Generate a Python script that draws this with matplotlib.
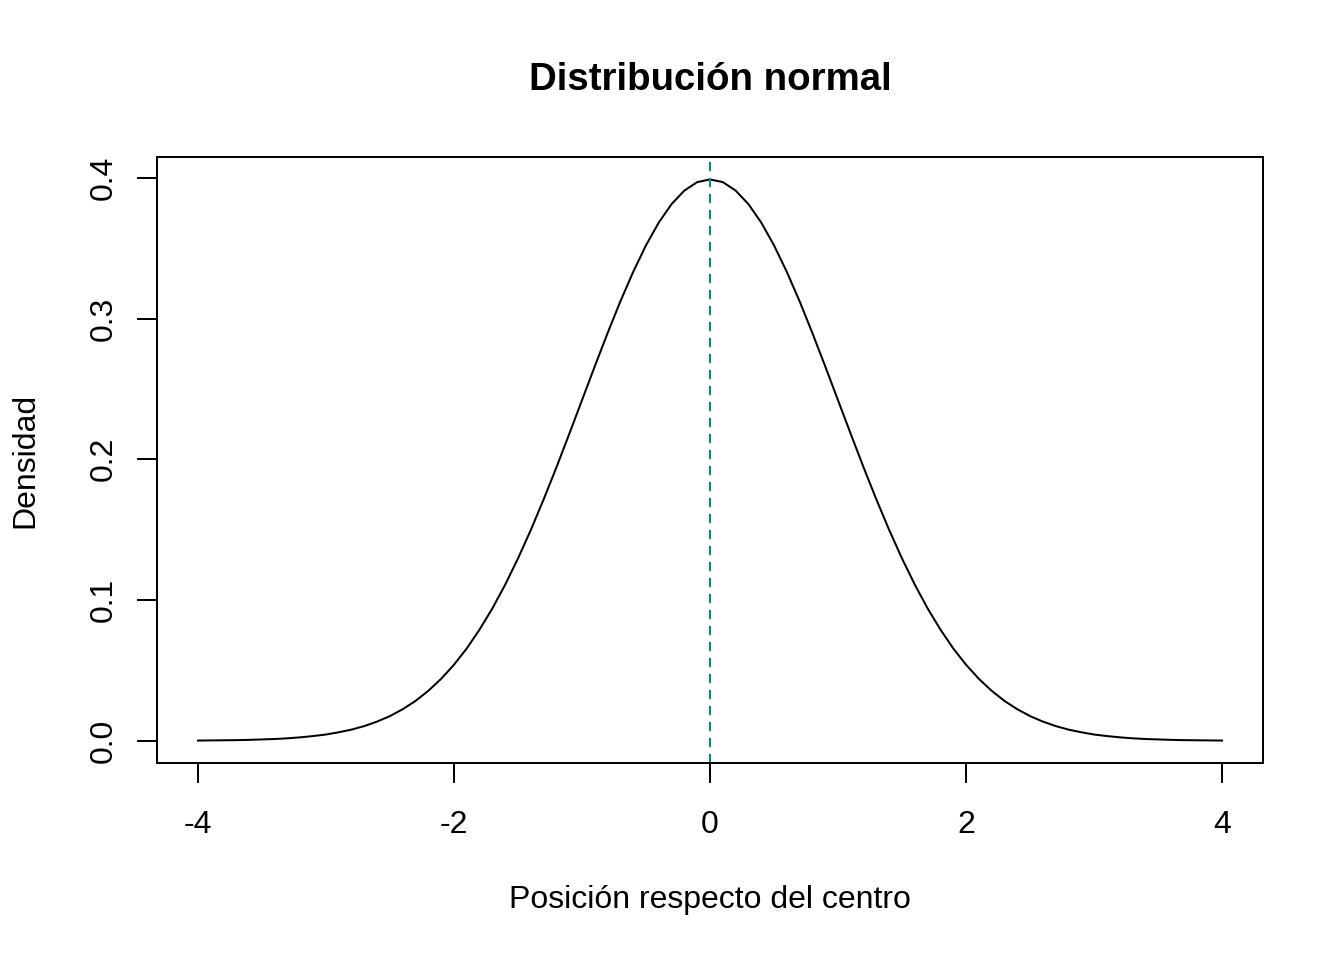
import numpy as np
import matplotlib
matplotlib.use("Agg")
import matplotlib.pyplot as plt

# valores
posicion = [-4.0, -3.9, -3.8, -3.7, -3.6, -3.5, -3.4, -3.3, -3.2, -3.1,
            -3.0, -2.9, -2.8, -2.7, -2.6, -2.5, -2.4, -2.3, -2.2, -2.1,
            -2.0, -1.9, -1.8, -1.7, -1.6, -1.5, -1.4, -1.3, -1.2, -1.1,
            -1.0, -0.9, -0.8, -0.7, -0.6, -0.5, -0.4, -0.3, -0.2, -0.1,
            0.0, 0.1, 0.2, 0.3, 0.4, 0.5, 0.6, 0.7, 0.8, 0.9,
            1.0, 1.1, 1.2, 1.3, 1.4, 1.5, 1.6, 1.7, 1.8, 1.9,
            2.0, 2.1, 2.2, 2.3, 2.4, 2.5, 2.6, 2.7, 2.8, 2.9,
            3.0, 3.1, 3.2, 3.3, 3.4, 3.5, 3.6, 3.7, 3.8, 3.9, 4.0]
densidad = [0.0001, 0.0002, 0.0003, 0.0004, 0.0006, 0.0009, 0.0012, 0.0017, 0.0024, 0.0033,
            0.0044, 0.0060, 0.0079, 0.0104, 0.0136, 0.0175, 0.0224, 0.0283, 0.0355, 0.0440,
            0.0540, 0.0656, 0.0790, 0.0940, 0.1109, 0.1295, 0.1497, 0.1714, 0.1942, 0.2179,
            0.2420, 0.2661, 0.2897, 0.3123, 0.3332, 0.3521, 0.3683, 0.3814, 0.3910, 0.3970,
            0.3989, 0.3970, 0.3910, 0.3814, 0.3683, 0.3521, 0.3332, 0.3123, 0.2897, 0.2661,
            0.2420, 0.2179, 0.1942, 0.1714, 0.1497, 0.1295, 0.1109, 0.0940, 0.0790, 0.0656,
            0.0540, 0.0440, 0.0355, 0.0283, 0.0224, 0.0175, 0.0136, 0.0104, 0.0079, 0.0060,
            0.0044, 0.0033, 0.0024, 0.0017, 0.0012, 0.0009, 0.0006, 0.0004, 0.0003, 0.0002, 0.0001]
centro = 0.0
xticks = [-4, -2, 0, 2, 4]
yticks = [0.0, 0.1, 0.2, 0.3, 0.4]

plt.rcParams['font.family'] = ['Liberation Sans', 'DejaVu Sans']
plt.rcParams['lines.scale_dashes'] = False

fig = plt.figure(figsize=(7, 5), dpi=192)
ax = fig.add_axes([157 / 1344, 197 / 960, 1106 / 1344, 606 / 960])

ax.plot(posicion, densidad, color='black', lw=0.75)
ax.axvline(centro, color='#008B8B', lw=0.75, dashes=(3.4, 2.6))

xr = max(posicion) - min(posicion)
ax.set_xlim(min(posicion) - 0.04 * xr, max(posicion) + 0.04 * xr)
yr = max(densidad) - min(densidad)
ax.set_ylim(min(densidad) - 0.04 * yr, max(densidad) + 0.04 * yr)

ax.set_xticks(xticks)
ax.set_xticklabels([f"{t:g}" for t in xticks])
ax.set_yticks(yticks)
ax.set_yticklabels([f"{t:.1f}" for t in yticks], rotation=90, va='center')
ax.tick_params(axis='both', length=7.5, width=0.75, labelsize=12, direction='out')
ax.tick_params(axis='x', pad=10)
ax.tick_params(axis='y', pad=7)
for s in ax.spines.values():
    s.set_linewidth(0.75)

fig.text(710 / 1344, 1 - 900 / 960, "Posición respecto del centro", fontsize=12,
         ha='center', va='center')
fig.text(25 / 1344, 1 - 460 / 960, "Densidad", fontsize=12, rotation=90,
         ha='center', va='center')
fig.text(710 / 1344, 1 - 80 / 960, "Distribución normal", fontsize=14.4,
         fontweight='bold', ha='center', va='center')

fig.savefig("out.png", dpi=192)
